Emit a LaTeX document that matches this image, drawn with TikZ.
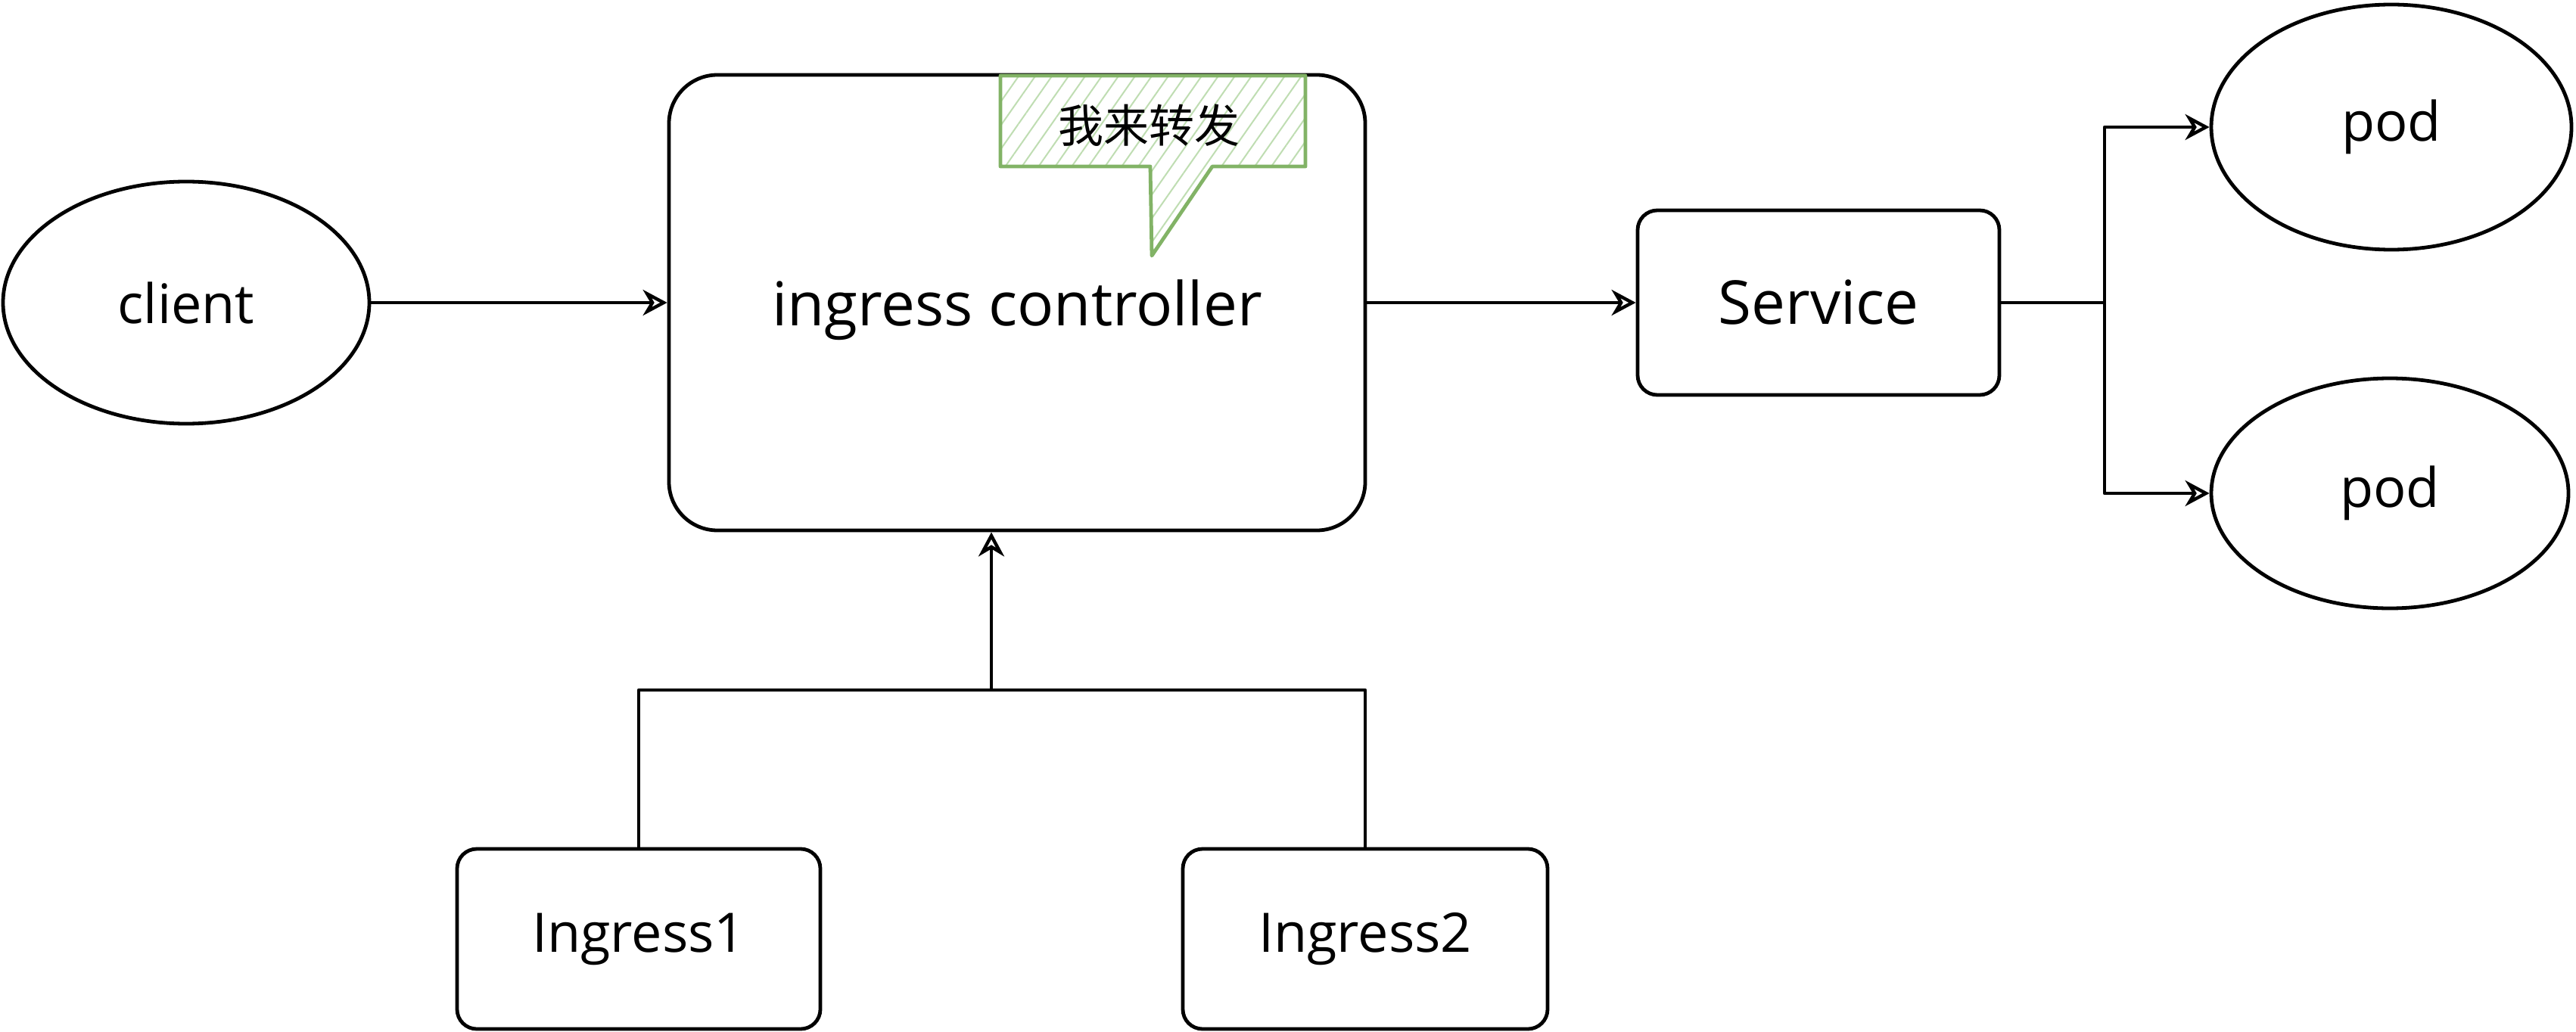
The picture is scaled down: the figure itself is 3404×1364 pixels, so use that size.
\documentclass[tikz,border=0pt]{standalone}
\usepackage{fontspec}
\setmainfont{Open Sans}
\newfontfamily\cjk{Noto Sans CJK SC}
\usetikzlibrary{shapes.geometric,arrows.meta,patterns.meta}
\definecolor{calloutgreen}{HTML}{82B366}
\definecolor{hatchgreen}{HTML}{BFDDB2}
\begin{document}
\begin{tikzpicture}[x=0.5pt,y=-0.5pt,
  lbl/.style={font=\fontsize{36}{42}\selectfont},
  biglbl/.style={font=\fontsize{40}{46}\selectfont},
  shp/.style={draw=black,line width=2.4pt,fill=white,inner sep=0pt,lbl},
  oval/.style={shp,ellipse},
  rbox/.style={shp,rectangle,rounded corners=13pt},
  arr/.style={draw=black,line width=2.2pt,line join=round,-{Stealth[open,length=16pt,width=17pt,inset=5pt]}},
  link/.style={draw=black,line width=2.2pt,line join=round}]

\fill[white] (0,0) rectangle (3404,1364);
\useasboundingbox (0,0) rectangle (3404,1364);

% nodes
\node[oval,minimum width=242pt,minimum height=160pt] (client) at (246,400) {client};
\node[rbox,rounded corners=32pt,minimum width=460pt,minimum height=301pt] (ctrl) at (1344,400) {};
\node[biglbl] (ctrlt) at ([yshift=-5pt]ctrl.center) {ingress controller};
\node[rbox,biglbl,minimum width=239pt,minimum height=122pt] (svc) at (2403,400) {Service};
\node[oval,minimum width=238pt,minimum height=162pt] (pod1) at (3160,168) {pod};
\node[oval,minimum width=236pt,minimum height=152pt] (pod2) at (3158,652) {pod};
\node[rbox,minimum width=240pt,minimum height=119pt] (ing1) at (844,1241) {Ingress1};
\node[rbox,minimum width=241pt,minimum height=119pt] (ing2) at (1804,1241) {Ingress2};

% callout
\draw[draw=calloutgreen,line width=2.4pt,line join=round,
      pattern={Lines[angle=55,distance=9pt,line width=1pt]},pattern color=hatchgreen]
  (1322,100) -- (1725,100) -- (1725,220) -- (1602,220) -- (1522,338) -- (1520,220) -- (1322,220) -- cycle;
\node[font=\cjk\fontsize{30}{33}\selectfont,inner sep=0pt] (note) at (1518,166) {我来转发};

% connectors
\draw[arr] (client.east) -- (ctrl.west);
\draw[arr] (ctrl.east) -- (svc.west);
\coordinate (jsvc) at (2781,400);
\draw[link] (svc.east) -- (jsvc);
\draw[arr] (jsvc) |- (pod1.west);
\draw[arr] (jsvc) |- (pod2.west);
\coordinate (jin) at (1310,912);
\coordinate (cin) at (ctrl.south -| jin);
\draw[link] (ing1.north) |- (jin);
\draw[link] (ing2.north) |- (jin);
\draw[arr] (jin) -- (cin);
\end{tikzpicture}
\end{document}
